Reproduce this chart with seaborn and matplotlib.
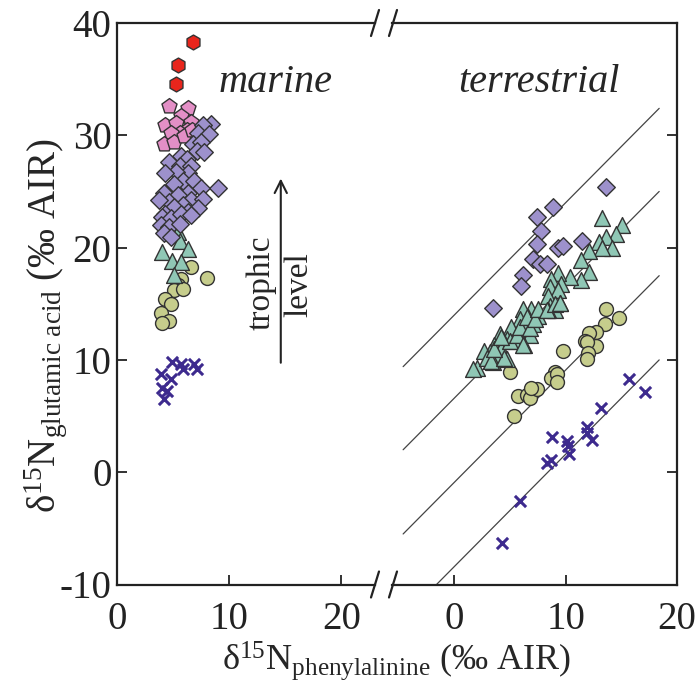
"""
Glutamic acid vs phenylalanine d15N, marine vs terrestrial food chains.
Broken x axis built from two panels sharing y.
"""

import matplotlib
matplotlib.use("Agg")
import matplotlib.pyplot as plt
from matplotlib.lines import Line2D
import pandas as pd
import seaborn as sns

# ---- marine data (left panel) ----
m_hex_x = [6.8, 5.4, 5.3]
m_hex_y = [38.3, 36.3, 34.6]

m_pent_x = [4.6, 6.3, 5.7, 4.3, 5.3, 6.6, 6.2, 5.6, 4.8, 4.2, 5.1, 6.0, 6.7]
m_pent_y = [32.6, 32.4, 31.7, 30.9, 31.1, 31.2, 30.5, 30.2, 30.2, 29.2, 29.4, 29.9, 30.5]

m_dia_x = [8.4, 7.7, 7.2, 8.2, 6.8, 7.5, 7.1, 7.8, 5.7, 6.2, 4.6, 5.6, 6.6, 6.3,
           5.3, 4.3, 5.9, 6.9, 5.1, 9.0, 7.5, 4.2, 6.3, 5.4, 4.6, 6.6, 7.7, 3.7,
           5.9, 5.1, 7.2, 4.3, 6.3, 4.0, 4.8, 5.7, 6.6, 3.9, 4.6, 5.6, 4.2, 4.8]
m_dia_y = [31.0, 30.9, 30.2, 30.1, 29.2, 29.4, 28.6, 28.5, 28.2, 27.9, 27.6, 27.3, 27.3, 26.6,
           26.7, 26.6, 25.9, 25.9, 25.7, 25.3, 25.3, 24.9, 24.9, 24.7, 24.1, 24.2, 24.3, 24.2,
           23.8, 23.6, 23.5, 23.0, 23.2, 22.7, 22.6, 23.0, 22.9, 22.0, 21.8, 22.1, 21.3, 20.9]

m_tri_x = [5.4, 5.6, 6.3, 4.0, 4.9, 5.7, 5.1]
m_tri_y = [21.4, 20.6, 19.9, 19.6, 18.8, 18.7, 17.6]

m_circ_x = [6.6, 8.0, 5.7, 5.4, 5.1, 5.9, 4.3, 4.8, 3.9, 4.6, 4.0]
m_circ_y = [18.3, 17.3, 17.2, 16.7, 16.2, 16.3, 15.4, 15.0, 14.2, 13.5, 13.3]

m_cross_x = [4.9, 5.7, 6.9, 7.1, 5.9, 3.9, 4.8, 4.0, 4.5, 4.2]
m_cross_y = [9.8, 9.6, 9.6, 9.2, 9.2, 8.7, 8.3, 7.5, 7.2, 6.5]

# ---- terrestrial data (right panel) ----
t_dia_x = [13.6, 8.9, 7.4, 7.8, 7.4, 9.3, 9.8, 11.5, 7.1, 7.7, 8.3, 6.2, 6.0, 3.5]
t_dia_y = [25.4, 23.6, 22.7, 21.5, 20.3, 20.0, 20.1, 20.6, 19.0, 18.5, 18.5, 17.6, 16.6, 14.6]

t_tri_x = [13.3, 15.1, 14.5, 13.6, 13.0, 14.2, 13.3, 12.1, 11.4, 12.1, 11.4, 10.4, 9.3, 8.7,
           9.6, 8.6, 9.3, 8.4, 9.5, 8.6, 9.0, 6.9, 6.2, 8.4, 7.5, 6.6, 5.9, 7.1, 6.3, 5.1,
           5.7, 6.8, 4.7, 5.4, 6.3, 4.1, 3.6, 4.2, 3.2, 2.7, 3.8, 4.7, 2.0, 3.5, 2.9, 1.7,
           3.3, 4.5, 3.6, 5.0, 4.2, 5.6, 6.2, 5.9, 6.8, 6.5, 7.2, 7.5, 8.3, 9.0, 9.5]
t_tri_y = [22.6, 22.0, 21.2, 20.9, 20.5, 20.0, 20.0, 19.7, 18.9, 17.8, 17.1, 17.4, 17.7, 17.2,
           16.8, 16.5, 16.2, 15.7, 15.1, 14.8, 14.4, 14.5, 14.5, 14.4, 13.9, 13.8, 13.6, 13.2,
           13.0, 12.9, 12.5, 12.2, 11.9, 11.7, 11.3, 12.3, 11.3, 11.0, 10.7, 10.8, 10.2, 10.1,
           9.3, 9.8, 10.2, 9.2, 9.9, 10.2, 11.0, 11.7, 12.0, 12.2, 11.3, 12.9, 12.8, 13.8,
           13.6, 14.5, 14.4, 15.0, 15.1]

t_circ_x = [13.6, 14.8, 13.5, 12.7, 12.1, 11.7, 12.7, 11.9, 12.0, 11.9, 9.8, 9.0, 5.0,
            5.7, 6.5, 6.8, 7.4, 6.9, 8.7, 9.2, 9.2, 5.4]
t_circ_y = [14.5, 13.7, 13.2, 12.5, 12.4, 11.7, 11.2, 11.6, 10.6, 10.1, 10.8, 8.9, 8.9,
            6.8, 6.9, 6.6, 7.4, 7.5, 8.4, 8.7, 8.0, 5.0]

t_cross_x = [15.7, 17.1, 13.2, 11.9, 11.9, 12.4, 10.1, 10.2, 10.3, 8.8, 8.7, 8.3, 5.9, 4.3]
t_cross_y = [8.3, 7.1, 5.7, 4.0, 3.5, 2.9, 2.8, 2.3, 1.6, 3.1, 1.1, 0.8, -2.6, -6.3]

# trophic level lines (slope 1) in the terrestrial panel
line_intercepts = [14.0, 6.6, -0.9, -8.4]
line_x = [-4.6, 18.4]

x_ticks = [0, 10, 20]
y_ticks = [-10, 0, 10, 20, 30, 40]

# ---- styling ----
sns.set_style("ticks")
plt.rcParams["font.family"] = ["Liberation Serif", "DejaVu Serif"]
plt.rcParams["mathtext.fontset"] = "custom"
plt.rcParams["mathtext.rm"] = "Liberation Serif"
plt.rcParams["mathtext.it"] = "Liberation Serif:italic"
plt.rcParams["mathtext.bf"] = "Liberation Serif:bold"
plt.rcParams["axes.unicode_minus"] = False

INK = "#222222"
EDGE = "#333333"
styles = {
    "cross": dict(marker="x", color="#3d2a8e", s=65, linewidth=2.2),
    "circ": dict(marker="o", color="#c6cd8c", s=100, edgecolor=EDGE, linewidth=1),
    "tri": dict(marker="^", color="#8fc7b5", s=130, edgecolor=EDGE, linewidth=1),
    "dia": dict(marker="D", color="#9d91cc", s=80, edgecolor=EDGE, linewidth=1),
    "pent": dict(marker="p", color="#e38fc6", s=130, edgecolor=EDGE, linewidth=1),
    "hex": dict(marker="h", color="#e8251c", s=115, edgecolor=EDGE, linewidth=1),
}


def scatter(ax, xs, ys, kind):
    d = pd.DataFrame({"x": xs, "y": ys})
    sns.scatterplot(data=d, x="x", y="y", ax=ax, legend=False, zorder=3, **styles[kind])


W, H = 698, 688
fig = plt.figure(figsize=(W / 100, H / 100), dpi=100)
bot, top = 1 - 584.5 / H, 1 - 23 / H
axL = fig.add_axes([117 / W, bot, (375 - 117) / W, top - bot])
axR = fig.add_axes([392 / W, bot, (677 - 392) / W, top - bot])

# left panel: marine
scatter(axL, m_cross_x, m_cross_y, "cross")
scatter(axL, m_circ_x, m_circ_y, "circ")
scatter(axL, m_tri_x, m_tri_y, "tri")
scatter(axL, m_pent_x, m_pent_y, "pent")
scatter(axL, m_dia_x, m_dia_y, "dia")
scatter(axL, m_hex_x, m_hex_y, "hex")

# right panel: terrestrial
for b in line_intercepts:
    axR.plot(line_x, [line_x[0] + b, line_x[1] + b], color="#444444", lw=0.9, zorder=1)
scatter(axR, t_cross_x, t_cross_y, "cross")
scatter(axR, t_circ_x, t_circ_y, "circ")
scatter(axR, t_tri_x, t_tri_y, "tri")
scatter(axR, t_dia_x, t_dia_y, "dia")

axL.set_xlim(0, 23.0)
axR.set_xlim(-5.6, 20)
for ax in (axL, axR):
    ax.set_ylim(-10, 40)
    ax.set_xticks(x_ticks)
    ax.set_yticks(y_ticks)
    ax.set_xlabel("")
    ax.set_ylabel("")
    for sp in ax.spines.values():
        sp.set_linewidth(1.6)
        sp.set_color(INK)
    ax.tick_params(axis="x", direction="in", length=7, width=1.3, colors=INK,
                   labelsize=28, pad=12, top=False)
    ax.tick_params(axis="y", direction="in", length=7, width=1.3, colors=INK,
                   labelsize=28, pad=4)

axL.spines["right"].set_visible(False)
axR.spines["left"].set_visible(False)
axR.tick_params(axis="y", left=False, labelleft=False, right=True)

# annotations
axL.text(14.1, 34.7, "marine", style="italic", fontsize=29, ha="center", va="center")
axR.text(7.6, 34.7, "terrestrial", style="italic", fontsize=29, ha="center", va="center")
axL.annotate("", xy=(14.6, 26.4), xytext=(14.6, 9.5),
             arrowprops=dict(arrowstyle="->", lw=1.5, color=INK, mutation_scale=22))
axL.text(12.9, 16.9, "trophic", rotation=90, fontsize=24, ha="center", va="center")
axL.text(16.2, 16.7, "level", rotation=90, fontsize=24, ha="center", va="center")

# axis labels
fig.text(46 / W, 1 - 326 / H, "δ$^{15}\\mathrm{N}_{\\mathrm{glutamic\\ acid}}$ (‰ AIR)",
         rotation=90, fontsize=28, ha="center", va="center")
fig.text(397 / W, 1 - 661 / H, "δ$^{15}\\mathrm{N}_{\\mathrm{phenylalinine}}$ (‰ AIR)",
         fontsize=26, ha="center", va="center")

# axis break marks
for px in (375, 393):
    for py in (23, 584.5):
        fig.add_artist(Line2D([(px - 4) / W, (px + 4) / W],
                              [1 - (py + 13) / H, 1 - (py - 13) / H],
                              color=INK, lw=1.6))

plt.savefig("out.png", dpi=100)
